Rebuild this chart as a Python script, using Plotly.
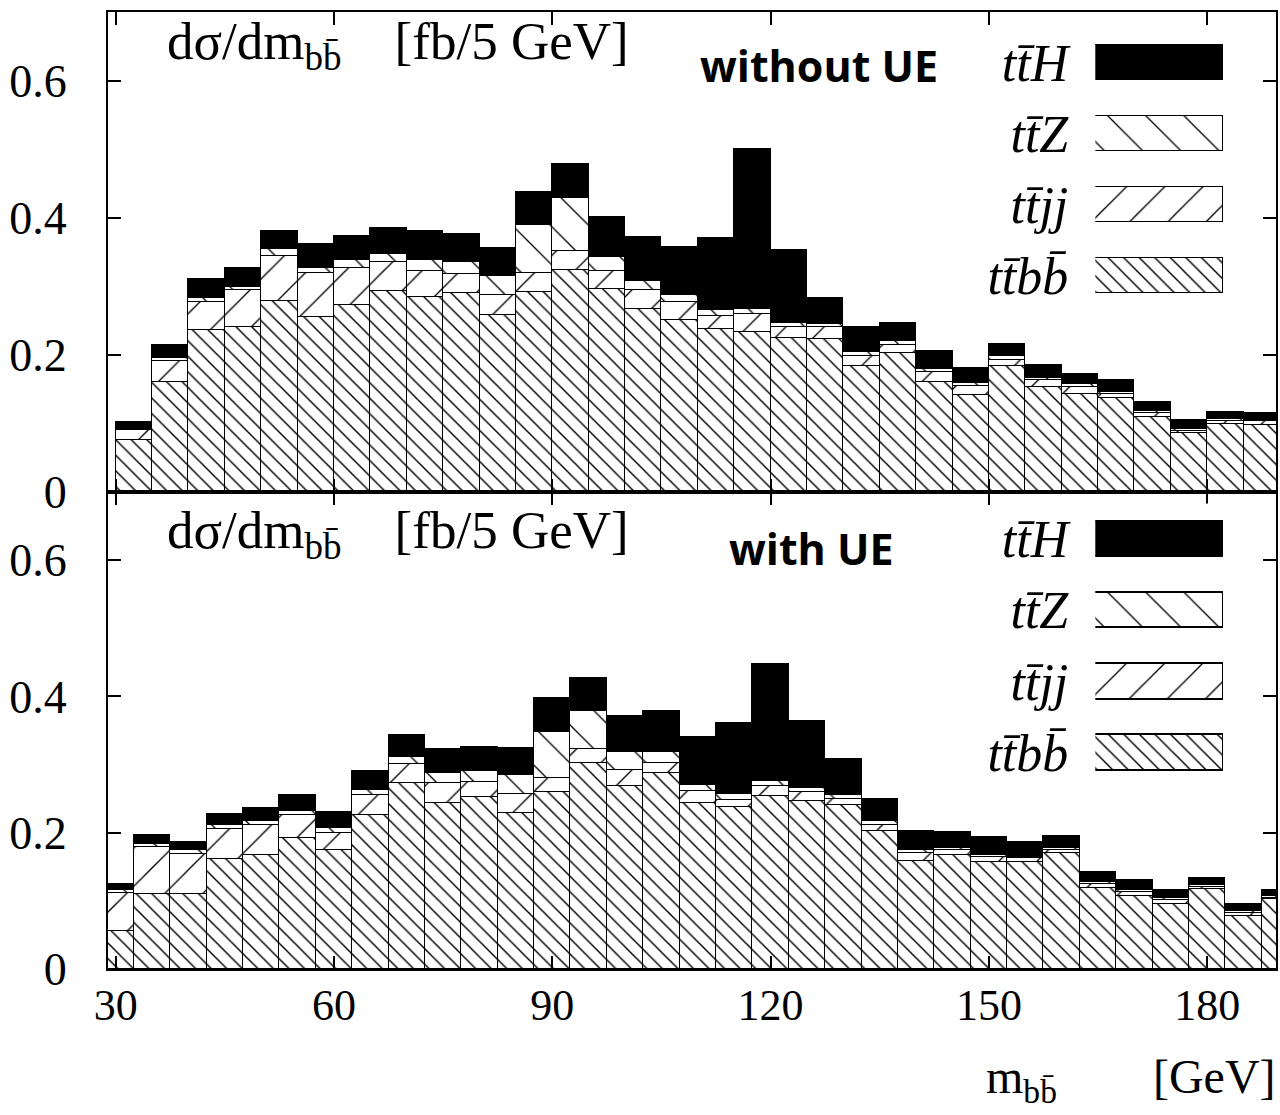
import plotly.graph_objects as go
from plotly.subplots import make_subplots

# ---------------- data ----------------
series_names = ["ttH", "ttZ", "ttjj", "ttbb"]
legend_labels = ["<i>tt\u0304H</i>", "<i>tt\u0304Z</i>", "<i>tt\u0304jj</i>", "<i>tt\u0304bb\u0304</i>"]

# upper panel: "without UE", bins 30-35 ... 185-190 GeV (centres)
top_x = [32.5, 37.5, 42.5, 47.5, 52.5, 57.5, 62.5, 67.5, 72.5, 77.5, 82.5, 87.5, 92.5, 97.5,
         102.5, 107.5, 112.5, 117.5, 122.5, 127.5, 132.5, 137.5, 142.5, 147.5, 152.5, 157.5,
         162.5, 167.5, 172.5, 177.5, 182.5, 187.5]
top_ttbb = [.076, .161, .236, .240, .278, .255, .273, .293, .284, .290, .258, .291, .324, .296,
            .267, .251, .238, .234, .224, .223, .184, .203, .161, .141, .184, .153, .143, .137,
            .109, .086, .099, .098]
top_ttjj = [.0145, .030, .041, .054, .066, .064, .054, .042, .039, .028, .029, .028, .027, .026,
            .028, .026, .019, .026, .017, .018, .015, .012, .014, .013, .009, .011, .010, .006,
            .006, .003, .005, .005]
top_ttZ = [.001, .005, .006, .005, .010, .007, .011, .012, .015, .018, .028, .071, .078, .021,
           .013, .010, .008, .007, .006, .004, .005, .005, .005, .005, .005, .003, .004, .003,
           .003, .003, .003, .002]
top_ttH = [.0105, .018, .028, .027, .027, .035, .036, .038, .043, .041, .041, .047, .050, .058,
           .064, .070, .105, .233, .106, .038, .036, .026, .026, .022, .018, .018, .015, .017,
           .013, .013, .009, .010]

# lower panel: "with UE", bins 27.5-32.5 ... 187.5-192.5 GeV (centres)
bot_x = [30, 35, 40, 45, 50, 55, 60, 65, 70, 75, 80, 85, 90, 95, 100, 105, 110, 115, 120,
         125, 130, 135, 140, 145, 150, 155, 160, 165, 170, 175, 180, 185, 190]
bot_ttbb = [.055, .110, .110, .161, .168, .192, .175, .226, .273, .244, .252, .229, .259, .302,
            .268, .287, .243, .237, .254, .247, .240, .203, .159, .167, .157, .157, .170, .119,
            .107, .096, .118, .078, .102]
bot_ttjj = [.057, .069, .059, .045, .043, .034, .025, .029, .028, .029, .023, .028, .022, .021,
            .024, .015, .018, .011, .014, .012, .010, .009, .011, .007, .007, .006, .005, .005,
            .006, .005, .003, .004, .002]
bot_ttZ = [.004, .004, .005, .005, .006, .006, .007, .007, .010, .014, .015, .028, .067, .055,
           .026, .016, .009, .009, .008, .007, .005, .005, .005, .004, .004, .002, .002, .004,
           .003, .003, .002, .003, .003]
bot_ttH = [.009, .013, .012, .016, .019, .023, .024, .028, .032, .036, .036, .040, .050, .049,
           .053, .061, .070, .104, .172, .098, .053, .032, .028, .023, .025, .022, .018, .014,
           .015, .012, .010, .011, .009]

x_ticks = [30, 60, 90, 120, 150, 180]
y_ticks = [0, 0.2, 0.4, 0.6]
y_ticktext = ["0", "0.2", "0.4", "0.6"]
bin_width = 5

# ---------------- styles ----------------
SERIF = "Liberation Serif, Times New Roman, serif"
styles = {
    "ttbb": dict(color="white", line=dict(color="black", width=1.2),
                 pattern=dict(shape="\\", size=11, solidity=0.13, fgcolor="black",
                              bgcolor="white", fillmode="replace")),
    "ttjj": dict(color="white", line=dict(color="black", width=1.2),
                 pattern=dict(shape="/", size=27, solidity=0.05, fgcolor="black",
                              bgcolor="white", fillmode="replace")),
    "ttZ": dict(color="white", line=dict(color="black", width=1.2),
                pattern=dict(shape="\\", size=27, solidity=0.05, fgcolor="black",
                             bgcolor="white", fillmode="replace")),
    "ttH": dict(color="black", line=dict(color="black", width=1.2)),
}

fig = make_subplots(rows=2, cols=1, shared_xaxes=True, vertical_spacing=0)

panels = [
    (1, top_x, {"ttbb": top_ttbb, "ttjj": top_ttjj, "ttZ": top_ttZ, "ttH": top_ttH}),
    (2, bot_x, {"ttbb": bot_ttbb, "ttjj": bot_ttjj, "ttZ": bot_ttZ, "ttH": bot_ttH}),
]
for row, xs, data in panels:
    for name in ["ttbb", "ttjj", "ttZ", "ttH"]:
        fig.add_trace(go.Bar(x=xs, y=data[name], width=bin_width, name=name,
                             marker=styles[name], showlegend=False, cliponaxis=True),
                      row=row, col=1)

# legend keys: drawn on small auxiliary axes, one per panel
key_axes = [("x3", "y3"), ("x4", "y4")]
for xa, ya in key_axes:
    for name in series_names:
        fig.add_trace(go.Bar(x=[1], y=[name], base=0, orientation="h", width=0.5,
                             marker=styles[name], showlegend=False, xaxis=xa, yaxis=ya))

axis_common = dict(showline=True, linecolor="black", linewidth=2, mirror="allticks",
                   ticks="inside", ticklen=13, tickwidth=1.5, tickcolor="black",
                   showgrid=False, zeroline=False)

key_y = dict(type="category", categoryorder="array", categoryarray=series_names[::-1],
             range=[-0.5, 3.5], tickvals=series_names, ticktext=legend_labels,
             tickfont=dict(family=SERIF, size=52), ticklabelstandoff=26,
             showline=False, showgrid=False, zeroline=False, ticks="")

fig.update_layout(
    width=1280, height=1115,
    margin=dict(l=108, r=2, t=12, b=146),
    paper_bgcolor="white", plot_bgcolor="white",
    barmode="stack", bargap=0,
    font=dict(family=SERIF, color="black"),
    xaxis=dict(range=[28.95, 189.45], tickvals=x_ticks, showticklabels=False, **axis_common),
    xaxis2=dict(range=[28.95, 189.45], tickvals=x_ticks, showticklabels=True,
                tickfont=dict(family=SERIF, size=44), ticklabelstandoff=-4, **axis_common),
    yaxis=dict(domain=[0.4984, 1.0], range=[0, 0.7], tickvals=y_ticks, ticktext=y_ticktext,
               tickfont=dict(family=SERIF, size=46), ticklabelstandoff=30, **axis_common),
    yaxis2=dict(domain=[0.0, 0.4984], range=[0, 0.7], tickvals=y_ticks, ticktext=y_ticktext,
                tickfont=dict(family=SERIF, size=46), ticklabelstandoff=30, **axis_common),
    xaxis3=dict(domain=[0.8453, 0.9547], anchor="y3", range=[0, 1], visible=False),
    yaxis3=dict(domain=[0.6876, 0.9843], anchor="x3", **key_y),
    xaxis4=dict(domain=[0.8453, 0.9547], anchor="y4", range=[0, 1], visible=False),
    yaxis4=dict(domain=[0.1891, 0.4864], anchor="x4", **key_y),
)

NB = "\u00a0"
ylabel = "d\u03c3/dm<sub>bb\u0304</sub>" + NB * 4 + "[fb/5 GeV]"
annots = [
    dict(text=ylabel, x=0.0487, y=0.966, xanchor="left", yanchor="middle",
         font=dict(family=SERIF, size=53)),
    dict(text=ylabel, x=0.0487, y=0.4545, xanchor="left", yanchor="middle",
         font=dict(family=SERIF, size=53)),
    dict(text="<b>without UE</b>", x=0.6085, y=0.9446, xanchor="center", yanchor="middle",
         font=dict(family="Open Sans, sans-serif", size=43)),
    dict(text="<b>with UE</b>", x=0.6026, y=0.4399, xanchor="center", yanchor="middle",
         font=dict(family="Open Sans, sans-serif", size=43)),
    dict(text="m<sub>bb\u0304</sub>" + NB * 8 + "[GeV]", x=1.0017, y=-0.116, xanchor="right",
         yanchor="middle", font=dict(family=SERIF, size=48)),
]
for a in annots:
    fig.add_annotation(xref="paper", yref="paper", showarrow=False, **a)

fig.write_html("out.html")
